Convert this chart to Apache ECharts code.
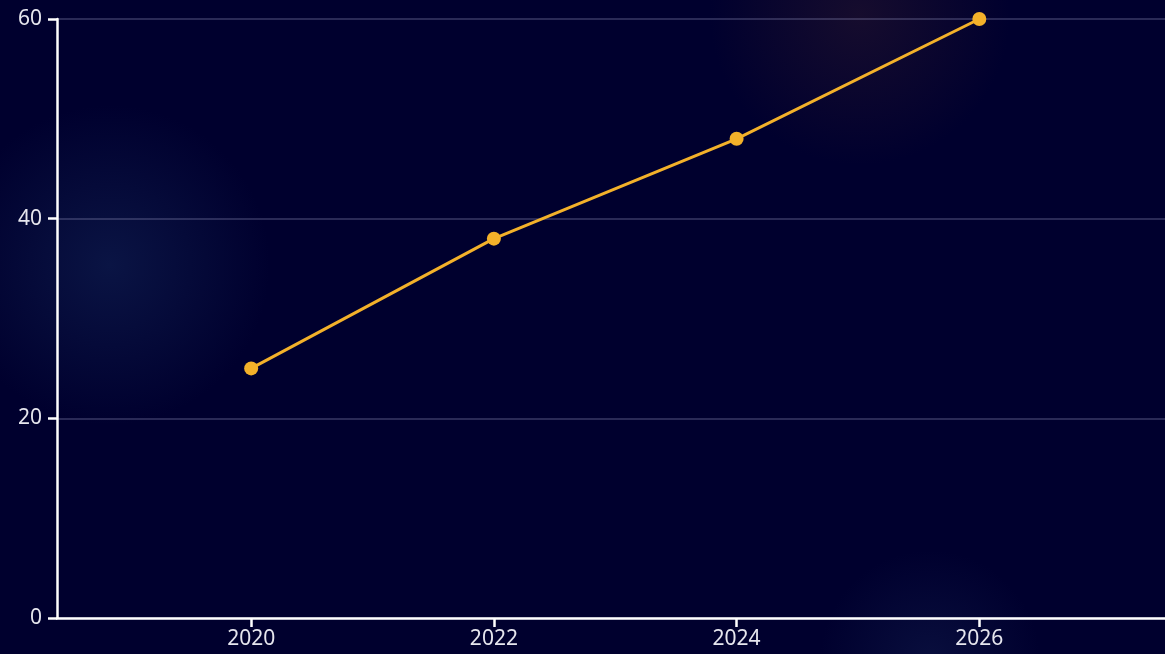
<!DOCTYPE html>
<html><head><meta charset="utf-8">
<script src="https://cdn.jsdelivr.net/npm/echarts@6/dist/echarts.min.js"></script>
<style>
html,body{margin:0;padding:0;background:#00002e;}
#c{width:1165px;height:654px;
background:
 radial-gradient(circle 160px at 110px 265px, rgba(20,40,90,0.5), rgba(20,40,90,0) 100%),
 radial-gradient(circle 150px at 860px 15px, rgba(40,22,45,0.55), rgba(40,22,45,0) 100%),
 radial-gradient(circle 110px at 930px 660px, rgba(25,40,90,0.35), rgba(25,40,90,0) 100%),
 #00002e;}
</style></head>
<body><div id="c"></div>
<script>
const years = [2020, 2022, 2024, 2026];
const values = [25, 38, 48, 60];
const yTicks = [0, 20, 40, 60];

const chart = echarts.init(document.getElementById('c'));
const font = 'Noto Sans';
chart.setOption({
  backgroundColor: 'transparent',
  animation: false,
  textStyle: {fontFamily: font},
  grid: {left: 57, right: 0, top: 19, bottom: 36},
  xAxis: {
    type: 'value', min: 2018.4, max: 2027.53,
    axisLine: {show: true, onZero: false, lineStyle: {color: '#ffffff', width: 2.5}},
    axisTick: {show: true, inside: false, length: 9, lineStyle: {color: '#ffffff', width: 2.5}, customValues: years},
    axisLabel: {color: '#e6e6ee', fontSize: 21, fontFamily: font, margin: 11, customValues: years, formatter: v => String(v)},
    splitLine: {show: false}
  },
  yAxis: {
    type: 'value', min: 0, max: 60, interval: 20,
    axisLine: {show: true, lineStyle: {color: '#ffffff', width: 2.5}},
    axisTick: {show: true, inside: false, length: 9, lineStyle: {color: '#ffffff', width: 2.5}, customValues: yTicks},
    axisLabel: {color: '#e6e6ee', fontSize: 21, fontFamily: font, margin: 15, customValues: yTicks},
    splitLine: {show: true, lineStyle: {color: 'rgba(150,150,190,0.38)', width: 1.5}}
  },
  series: [{
    type: 'line',
    data: years.map((y, i) => [y, values[i]]),
    symbol: 'circle', symbolSize: 14,
    lineStyle: {color: '#f3b12a', width: 3},
    itemStyle: {color: '#f3b12a'},
    clip: false
  }]
});
</script></body></html>
